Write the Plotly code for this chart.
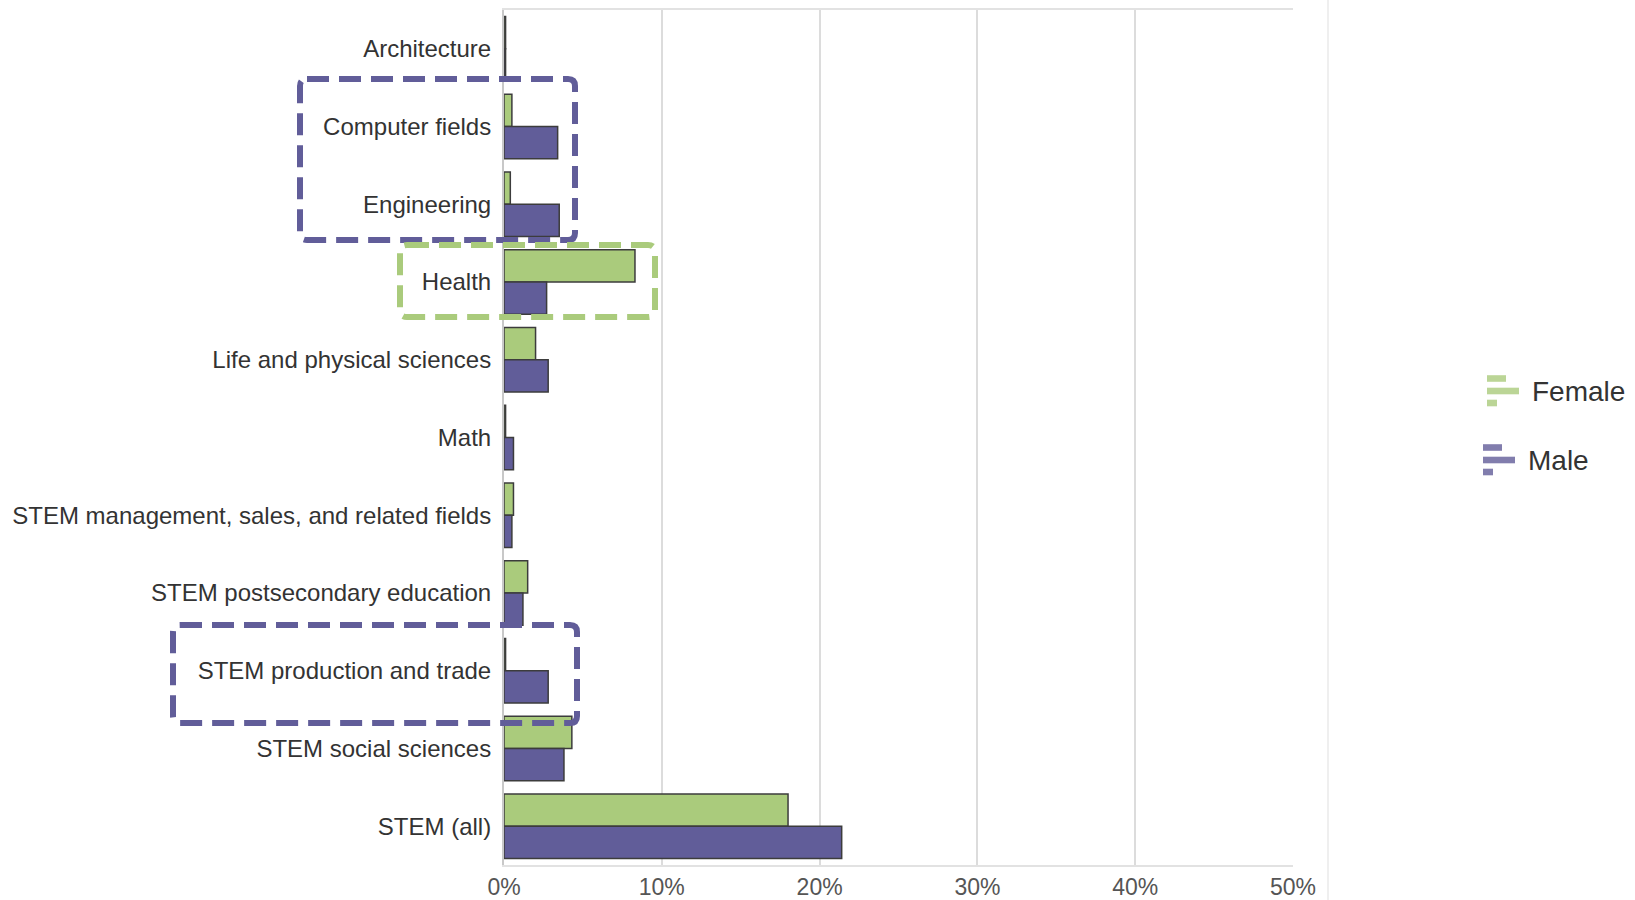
import plotly.graph_objects as go

# Share of workers in each STEM occupation group, by sex (percent)
categories = [
    "Architecture",
    "Computer fields",
    "Engineering",
    "Health",
    "Life and physical sciences",
    "Math",
    "STEM management, sales, and related fields",
    "STEM postsecondary education",
    "STEM production and trade",
    "STEM social sciences",
    "STEM (all)",
]
female = [0.1, 0.5, 0.4, 8.3, 2.0, 0.1, 0.6, 1.5, 0.1, 4.3, 18.0]
male = [0.1, 3.4, 3.5, 2.7, 2.8, 0.6, 0.5, 1.2, 2.8, 3.8, 21.4]
x_ticks = [0, 10, 20, 30, 40, 50]
x_tick_labels = ["0%", "10%", "20%", "30%", "40%", "50%"]

GREEN = "#aacb7c"
PURPLE = "#615d99"
OUTLINE = "#3c3c3c"
FONT = "Arial, Liberation Sans, sans-serif"

W, H = 1635, 900
M_L, M_R, M_T, M_B = 504, 342, 10, 35
PLOT_W = W - M_L - M_R
PLOT_H = H - M_T - M_B


def px(x):
    """Horizontal pixel position -> paper coordinate."""
    return (x - M_L) / PLOT_W


def py(y):
    """Vertical pixel position -> paper coordinate."""
    return (H - M_B - y) / PLOT_H


def rounded_box(x0, y0, x1, y1, r=7):
    """SVG path (paper units) for a rectangle with rounded corners, given pixel edges."""
    rx, ry = r / PLOT_W, r / PLOT_H
    a, b, c, d = px(x0), py(y0), px(x1), py(y1)  # a<c, b>d (top > bottom)
    return (
        f"M{a + rx},{b} L{c - rx},{b} Q{c},{b} {c},{b - ry} "
        f"L{c},{d + ry} Q{c},{d} {c - rx},{d} "
        f"L{a + rx},{d} Q{a},{d} {a},{d + ry} "
        f"L{a},{b - ry} Q{a},{b} {a + rx},{b} Z"
    )


fig = go.Figure()
fig.add_trace(go.Bar(
    y=categories, x=female, name="Female", orientation="h",
    marker=dict(color=GREEN, line=dict(color=OUTLINE, width=1.5)),
))
fig.add_trace(go.Bar(
    y=categories, x=male, name="Male", orientation="h",
    marker=dict(color=PURPLE, line=dict(color=OUTLINE, width=1.5)),
))

shapes = []
# dashed highlight boxes around selected groups
for x0, y0, x1, y1, col in [
    (300, 79, 575, 240, PURPLE),
    (400, 245, 655, 317, GREEN),
    (173, 625, 577, 723, PURPLE),
]:
    shapes.append(dict(
        type="path", xref="paper", yref="paper", path=rounded_box(x0, y0, x1, y1),
        line=dict(color=col, width=6, dash="22px,10px"), layer="above",
    ))

# faint divider right of the plot
shapes.append(dict(
    type="line", xref="paper", yref="paper",
    x0=px(1328), x1=px(1328), y0=py(H), y1=py(0),
    line=dict(color="#efefef", width=2), layer="below",
))

# legend: small bar-chart icons plus labels
annotations = []
for (ix, iy, col, label, tx) in [
    (1487, 391, GREEN, "Female", 1530),
    (1483, 460, PURPLE, "Male", 1526),
]:
    for dy, length in [(-12.5, 19), (0, 32), (12, 10)]:
        shapes.append(dict(
            type="rect", xref="paper", yref="paper",
            x0=px(ix), x1=px(ix + length), y0=py(iy + dy + 3.3), y1=py(iy + dy - 3.3),
            fillcolor=col, line=dict(width=0), opacity=0.8,
        ))
    annotations.append(dict(
        xref="paper", yref="paper", x=px(tx), y=py(iy), text=label,
        showarrow=False, xanchor="left", yanchor="middle",
        font=dict(family=FONT, size=28, color="#333333"),
    ))

fig.update_layout(
    width=W, height=H,
    margin=dict(l=M_L, r=M_R, t=M_T, b=M_B, autoexpand=False),
    paper_bgcolor="white", plot_bgcolor="white",
    barmode="group", bargap=0.17, bargroupgap=0,
    showlegend=False,
    shapes=shapes, annotations=annotations,
    font=dict(family=FONT, color="#333333"),
    xaxis=dict(
        range=[0, 50], tickvals=x_ticks, ticktext=x_tick_labels,
        showgrid=True, gridcolor="#dcdcdc", gridwidth=1.5,
        zeroline=False, showline=True, linecolor="#e2e2e2", linewidth=2, mirror=True,
        tickfont=dict(family=FONT, size=23, color="#555555"),
        ticks="", fixedrange=True,
    ),
    yaxis=dict(
        categoryorder="array", categoryarray=categories,
        range=[10.5, -0.5],
        showgrid=False, zeroline=False,
        showline=True, linecolor="#c8c8c8", linewidth=2,
        tickfont=dict(family=FONT, size=24, color="#333333"),
        ticks="", ticklabelstandoff=6, fixedrange=True,
    ),
)

fig.write_html("out.html")
